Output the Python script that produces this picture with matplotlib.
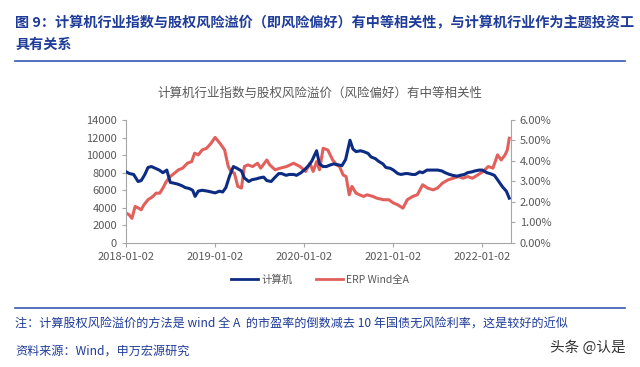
import numpy as np
import pandas as pd
import matplotlib
matplotlib.use("Agg")
import matplotlib.pyplot as plt
import matplotlib.dates as mdates
from matplotlib.lines import Line2D

plt.rcParams['font.family'] = ['Noto Sans CJK SC', 'DejaVu Sans']

# 计算机行业指数 (left axis)
cs_dates = ['2018-01-02', '2018-01-16', '2018-02-02', '2018-02-20', '2018-03-05', '2018-03-20',
            '2018-04-02', '2018-04-16', '2018-05-02', '2018-05-18', '2018-06-02', '2018-06-18',
            '2018-07-02', '2018-07-18', '2018-08-02', '2018-08-20', '2018-09-02', '2018-09-18',
            '2018-10-02', '2018-10-12', '2018-10-25', '2018-11-10', '2018-12-02', '2018-12-18',
            '2019-01-02', '2019-01-20', '2019-02-02', '2019-02-15', '2019-03-02', '2019-03-18',
            '2019-04-02', '2019-04-20', '2019-05-02', '2019-05-20', '2019-06-02', '2019-06-20',
            '2019-07-02', '2019-07-20', '2019-08-02', '2019-08-20', '2019-09-02', '2019-09-20',
            '2019-10-02', '2019-10-20', '2019-11-02', '2019-11-20', '2019-12-02', '2019-12-20',
            '2020-01-02', '2020-01-20', '2020-02-02', '2020-02-22', '2020-03-05', '2020-03-20',
            '2020-04-02', '2020-04-20', '2020-05-02', '2020-05-20', '2020-06-05', '2020-06-20',
            '2020-07-08', '2020-07-20', '2020-08-02', '2020-08-20', '2020-09-02', '2020-09-20',
            '2020-10-02', '2020-10-20', '2020-11-02', '2020-11-20', '2020-12-02', '2020-12-20',
            '2021-01-02', '2021-01-20', '2021-02-02', '2021-02-20', '2021-03-02', '2021-03-20',
            '2021-04-02', '2021-04-20', '2021-05-02', '2021-05-20', '2021-06-02', '2021-06-20',
            '2021-07-02', '2021-07-20', '2021-08-02', '2021-08-20', '2021-09-02', '2021-09-20',
            '2021-10-02', '2021-10-20', '2021-11-02', '2021-11-20', '2021-12-02', '2021-12-20',
            '2022-01-02', '2022-01-20', '2022-02-02', '2022-02-20', '2022-03-05', '2022-03-25',
            '2022-04-10', '2022-04-22']
cs_index = [8100, 7900, 7800, 7000, 7100, 7800,
            8600, 8700, 8500, 8300, 8000, 8300,
            6900, 6800, 6700, 6500, 6300, 6200,
            6000, 5300, 5900, 6000, 5900, 5800,
            5700, 5900, 5800, 6300, 7600, 8700,
            8500, 8200, 7400, 7000, 7200, 7300,
            7400, 7500, 7100, 7000, 7400, 7900,
            7900, 7700, 7800, 7800, 7700, 8000,
            8300, 8800, 9300, 10500, 9000, 8700,
            8700, 8900, 9000, 8900, 8800, 9500,
            11700, 10700, 10400, 10500, 10400, 10200,
            9800, 9600, 9300, 9000, 8600, 8500,
            8300, 7900, 7800, 7900, 7900, 7800,
            7800, 8100, 8000, 8300, 8300, 8300,
            8300, 8200, 8000, 7800, 7700, 7600,
            7700, 7800, 8000, 8100, 8200, 8300,
            8300, 8000, 7900, 7700, 7200, 6400,
            5900, 5100]

# ERP Wind全A (right axis, %)
erp_dates = ['2018-01-02', '2018-01-14', '2018-01-26', '2018-02-08', '2018-02-22', '2018-03-05',
             '2018-03-16', '2018-04-02', '2018-04-22', '2018-05-05', '2018-05-20', '2018-06-02',
             '2018-06-16', '2018-07-02', '2018-07-20', '2018-08-05', '2018-08-22', '2018-09-10',
             '2018-09-28', '2018-10-10', '2018-10-25', '2018-11-10', '2018-11-28', '2018-12-16',
             '2019-01-02', '2019-01-22', '2019-02-10', '2019-02-25', '2019-03-08', '2019-03-22',
             '2019-04-05', '2019-04-20', '2019-05-02', '2019-05-16', '2019-06-05', '2019-06-25',
             '2019-07-08', '2019-08-02', '2019-08-14', '2019-09-05', '2019-09-26', '2019-10-22',
             '2019-11-20', '2019-12-16', '2020-01-08', '2020-01-26', '2020-02-08', '2020-02-22',
             '2020-03-05', '2020-03-20', '2020-04-08', '2020-04-28', '2020-05-14', '2020-05-26',
             '2020-06-10', '2020-06-22', '2020-07-05', '2020-07-16', '2020-08-02', '2020-08-16',
             '2020-09-02', '2020-09-16', '2020-10-10', '2020-10-25', '2020-11-22', '2020-12-14',
             '2021-01-02', '2021-01-20', '2021-02-10', '2021-02-28', '2021-03-22', '2021-04-10',
             '2021-05-02', '2021-05-22', '2021-06-14', '2021-07-02', '2021-07-22', '2021-08-14',
             '2021-09-05', '2021-09-26', '2021-10-14', '2021-11-02', '2021-11-22', '2021-12-14',
             '2022-01-05', '2022-01-26', '2022-02-14', '2022-03-05', '2022-03-20', '2022-04-05',
             '2022-04-14', '2022-04-22']
erp_pct = [1.46, 1.38, 1.20, 1.78, 1.70, 1.62,
           1.86, 2.11, 2.27, 2.43, 2.43, 2.68,
           3.00, 3.24, 3.41, 3.57, 3.65, 3.89,
           3.97, 4.38, 4.30, 4.54, 4.62, 4.86,
           5.15, 4.86, 4.54, 3.73, 3.49, 3.41,
           2.76, 2.68, 3.73, 3.81, 3.73, 3.89,
           3.65, 4.05, 3.81, 3.57, 3.65, 3.73,
           3.89, 3.73, 3.49, 3.89, 3.49, 3.97,
           3.57, 4.62, 4.54, 4.05, 3.81, 3.73,
           3.32, 3.24, 2.35, 2.76, 2.43, 2.35,
           2.27, 2.35, 2.27, 2.19, 2.11, 2.11,
           1.95, 1.86, 1.70, 2.11, 2.27, 2.35,
           2.84, 2.68, 2.59, 2.68, 2.92, 3.08,
           3.16, 3.24, 3.16, 3.24, 3.16, 3.32,
           3.49, 3.73, 3.65, 4.30, 4.05, 4.30,
           4.54, 5.11]

xticks = ['2018-01-02', '2019-01-02', '2020-01-02', '2021-01-02', '2022-01-02']

navy = '#0c2c84'
red = '#e2605c'
grey = '#595959'
title_blue = '#1f3c99'

fig = plt.figure(figsize=(6.4, 3.67), dpi=100)
ax = fig.add_axes([0.197, 0.338, 0.601, 0.335])
ax2 = ax.twinx()

ax.plot(pd.to_datetime(cs_dates), cs_index, color=navy, lw=2.2, zorder=3)
ax2.plot(pd.to_datetime(erp_dates), erp_pct, color=red, lw=2.2)
ax.set_zorder(ax2.get_zorder() + 1)
ax.patch.set_visible(False)

ax.set_xlim(pd.Timestamp('2018-01-02'), pd.Timestamp('2022-04-28'))
ax.set_ylim(0, 14000)
ax2.set_ylim(0, 6)
ax.set_yticks(range(0, 14001, 2000))
ax2.set_yticks(range(0, 7))
ax2.yaxis.set_major_formatter(plt.FuncFormatter(lambda v, p: f'{v:.2f}%'))
ax.set_xticks(pd.to_datetime(xticks))
ax.set_xticklabels(xticks)

for a in (ax, ax2):
    a.spines['top'].set_visible(False)
    for s in ('left', 'right', 'bottom'):
        a.spines[s].set_color('#a6a6a6')
    a.tick_params(colors='#a6a6a6', labelcolor=grey, labelsize=8, length=3)
ax.spines['right'].set_visible(False)
ax2.spines['left'].set_visible(False)
ax2.spines['bottom'].set_visible(False)

fig.text(0.024, 0.938, '图 9：计算机行业指数与股权风险溢价（即风险偏好）有中等相关性，与计算机行业作为主题投资工',
         fontsize=10.2, fontweight='bold', color=title_blue, va='center')
fig.text(0.024, 0.877, '具有关系', fontsize=10.2, fontweight='bold', color=title_blue, va='center')
fig.add_artist(Line2D([0.024, 0.977], [0.835, 0.835], color='#3556b0', lw=1.2))
fig.text(0.5, 0.745, '计算机行业指数与股权风险溢价（风险偏好）有中等相关性',
         fontsize=9, color=grey, ha='center', va='center')

handles = [Line2D([], [], color=navy, lw=2), Line2D([], [], color=red, lw=2)]
fig.legend(handles, ['计算机', 'ERP Wind全A'], loc='center', bbox_to_anchor=(0.5, 0.237),
           ncol=2, frameon=False, fontsize=7.5, handlelength=2.6, handletextpad=0.3,
           columnspacing=2.2, labelcolor=grey)

fig.add_artist(Line2D([0.024, 0.977], [0.162, 0.162], color='#3556b0', lw=1.2))
fig.text(0.024, 0.118, '注：计算股权风险溢价的方法是 wind 全 A  的市盈率的倒数减去 10 年国债无风险利率，这是较好的近似',
         fontsize=8.7, color=title_blue, va='center')
fig.text(0.024, 0.042, '资料来源：Wind，申万宏源研究', fontsize=8.7, color=title_blue, va='center')
fig.text(0.978, 0.052, '头条 @认是', fontsize=10.5, color='#333333', ha='right', va='center')

fig.savefig('out.png', dpi=100)
